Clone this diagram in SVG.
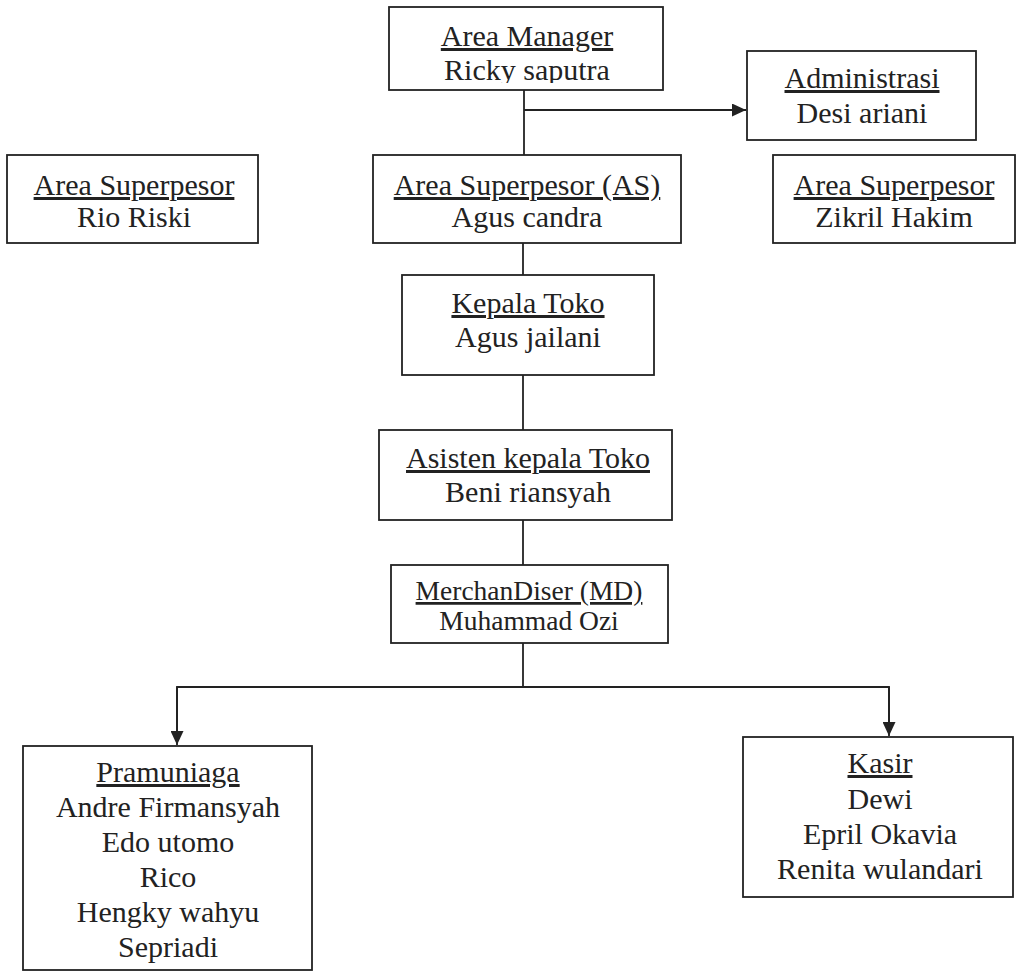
<svg xmlns="http://www.w3.org/2000/svg" width="1016" height="976" viewBox="0 0 1016 976">
<style>
.box{fill:#fff;stroke:#222;stroke-width:1.8}
.t{font-family:"Liberation Serif","Times New Roman",serif;font-size:30px;fill:#222;text-anchor:middle}
.s{font-size:27.5px}
.u{text-decoration:underline}
.c{fill:none;stroke:#222;stroke-width:1.8}
</style>
<defs>
<marker id="ah" viewBox="0 0 14 13" refX="14" refY="6.5" markerWidth="14" markerHeight="13" markerUnits="userSpaceOnUse" orient="auto">
<path d="M0,0 L14,6.5 L0,13 Z" fill="#222"/>
</marker>
<clipPath id="amclip"><rect x="389" y="7" width="274" height="76"/></clipPath>
</defs>
<rect width="1016" height="976" fill="#fff"/>
<g id="connectors">
<line class="c" x1="524" y1="90" x2="524" y2="155"/>
<line class="c" x1="524" y1="110" x2="746" y2="110" marker-end="url(#ah)"/>
<line class="c" x1="523" y1="243" x2="523" y2="275"/>
<line class="c" x1="523" y1="375" x2="523" y2="430"/>
<line class="c" x1="523" y1="520" x2="523" y2="565"/>
<line class="c" x1="523" y1="643" x2="523" y2="687"/>
<polyline class="c" points="177,740 177,687 889,687 889,731"/>
<line class="c" x1="177" y1="687" x2="177" y2="745" marker-end="url(#ah)"/>
<line class="c" x1="889" y1="687" x2="889" y2="736" marker-end="url(#ah)"/>
</g>
<g id="area-manager">
<rect class="box" x="389" y="7" width="274" height="83"/>
<g clip-path="url(#amclip)">
<text class="t" x="527" y="46"><tspan class="u">Area Manager</tspan></text>
<text class="t" x="527" y="80">Ricky saputra</text>
</g>
</g>
<g id="administrasi">
<rect class="box" x="747" y="51" width="229" height="89"/>
<text class="t" x="862" y="88"><tspan class="u">Administrasi</tspan></text>
<text class="t" x="862" y="123">Desi ariani</text>
</g>
<g id="as-left">
<rect class="box" x="7" y="155" width="251" height="88"/>
<text class="t" x="134" y="195"><tspan class="u">Area Superpesor</tspan></text>
<text class="t" x="134" y="227">Rio Riski</text>
</g>
<g id="as-center">
<rect class="box" x="373" y="155" width="308" height="88"/>
<text class="t" x="527" y="195"><tspan class="u">Area Superpesor (AS)</tspan></text>
<text class="t" x="527" y="227">Agus candra</text>
</g>
<g id="as-right">
<rect class="box" x="773" y="155" width="242" height="88"/>
<text class="t" x="894" y="195"><tspan class="u">Area Superpesor</tspan></text>
<text class="t" x="894" y="227">Zikril Hakim</text>
</g>
<g id="kepala-toko">
<rect class="box" x="402" y="275" width="252" height="100"/>
<text class="t" x="528" y="313"><tspan class="u">Kepala Toko</tspan></text>
<text class="t" x="528" y="347">Agus jailani</text>
</g>
<g id="asisten">
<rect class="box" x="379" y="430" width="293" height="90"/>
<text class="t" x="528" y="468"><tspan class="u">Asisten kepala Toko</tspan></text>
<text class="t" x="528" y="502">Beni riansyah</text>
</g>
<g id="merchandiser">
<rect class="box" x="391" y="565" width="277" height="78"/>
<text class="t s" x="529" y="600"><tspan class="u">MerchanDiser (MD)</tspan></text>
<text class="t s" x="529" y="630">Muhammad Ozi</text>
</g>
<g id="pramuniaga">
<rect class="box" x="23" y="746" width="289" height="224"/>
<text class="t" x="168" y="782"><tspan class="u">Pramuniaga</tspan></text>
<text class="t" x="168" y="817">Andre Firmansyah</text>
<text class="t" x="168" y="852">Edo utomo</text>
<text class="t" x="168" y="887">Rico</text>
<text class="t" x="168" y="922">Hengky wahyu</text>
<text class="t" x="168" y="957">Sepriadi</text>
</g>
<g id="kasir">
<rect class="box" x="743" y="737" width="270" height="160"/>
<text class="t" x="880" y="773"><tspan class="u">Kasir</tspan></text>
<text class="t" x="880" y="809">Dewi</text>
<text class="t" x="880" y="844">Epril Okavia</text>
<text class="t" x="880" y="879">Renita wulandari</text>
</g>
</svg>
